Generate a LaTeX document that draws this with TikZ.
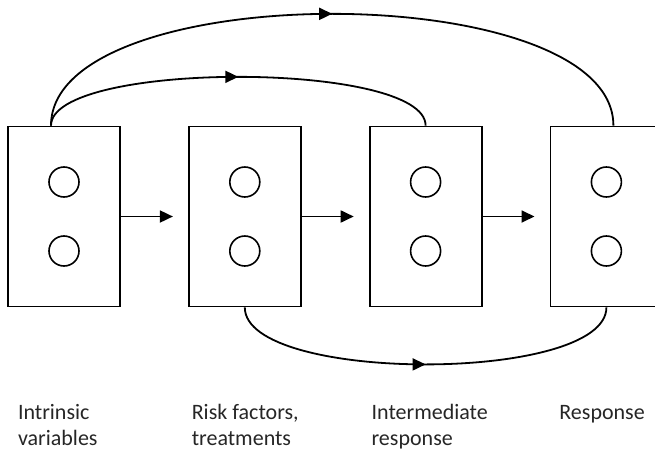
\documentclass[tikz,border=0pt]{standalone}
\usepackage{fontspec}
\setmainfont{Carlito}
\usepackage{tikz}
\usetikzlibrary{arrows.meta, positioning, decorations.markings}

\begin{document}
\begin{tikzpicture}[x=1pt, y=-1pt, line width=1.8pt,
    stage/.style={rectangle, draw, minimum width=112pt, minimum height=180pt, inner sep=0pt},
    var/.style={circle, draw, minimum size=30pt, inner sep=0pt, line width=1.6pt},
    caption/.style={anchor=base west, align=left, inner sep=0pt, text=black!85,
        font=\fontsize{22}{26}\selectfont},
    flow/.style={-{Triangle[length=13pt,width=12pt]}, shorten >=15pt},
    midarrow/.style={postaction={decorate}, decoration={markings,
        mark=at position 0.5 with {\arrow{Triangle[length=13pt,width=12pt]}}}}]
    \useasboundingbox (0,0) rectangle (655,452);

    % the four stages
    \node[stage] (intrinsic) at (64,216.5) {};
    \node[stage, right=67pt of intrinsic] (risk) {};
    \node[stage, right=67pt of risk] (inter) {};
    \node[stage, right=67pt of inter] (resp) {};

    \foreach \b in {intrinsic, risk, inter, resp} {
        \node[var] (\b-top) at ([yshift=34.5pt]\b.center) {};
        \node[var] (\b-bot) at ([yshift=-34.5pt]\b.center) {};
    }

    \draw[flow] (intrinsic) -- (risk);
    \draw[flow] (risk) -- (inter);
    \draw[flow] (inter) -- (resp);

    % long range links
    \draw[midarrow] ([xshift=-13pt]intrinsic.north) .. controls +(0,-65) and +(0,-65) .. (inter.north);
    \draw[midarrow] ([xshift=-13pt]intrinsic.north) .. controls +(0,-149) and +(0,-149) .. ([xshift=7pt]resp.north);
    \draw[midarrow] (risk.south) .. controls +(0,76) and +(0,76) .. (resp.south);

    % captions (base = last line)
    \node[caption] (cap-intrinsic) at ([xshift=10pt, yshift=-138pt]intrinsic.south west) {Intrinsic\\variables};
    \node[caption] (cap-risk) at ([xshift=3pt, yshift=-138pt]risk.south west) {Risk factors,\\treatments};
    \node[caption] (cap-inter) at ([xshift=2pt, yshift=-138pt]inter.south west) {Intermediate\\response};
    \node[caption] (cap-resp) at ([xshift=9pt, yshift=-112pt]resp.south west) {Response};
\end{tikzpicture}
\end{document}
